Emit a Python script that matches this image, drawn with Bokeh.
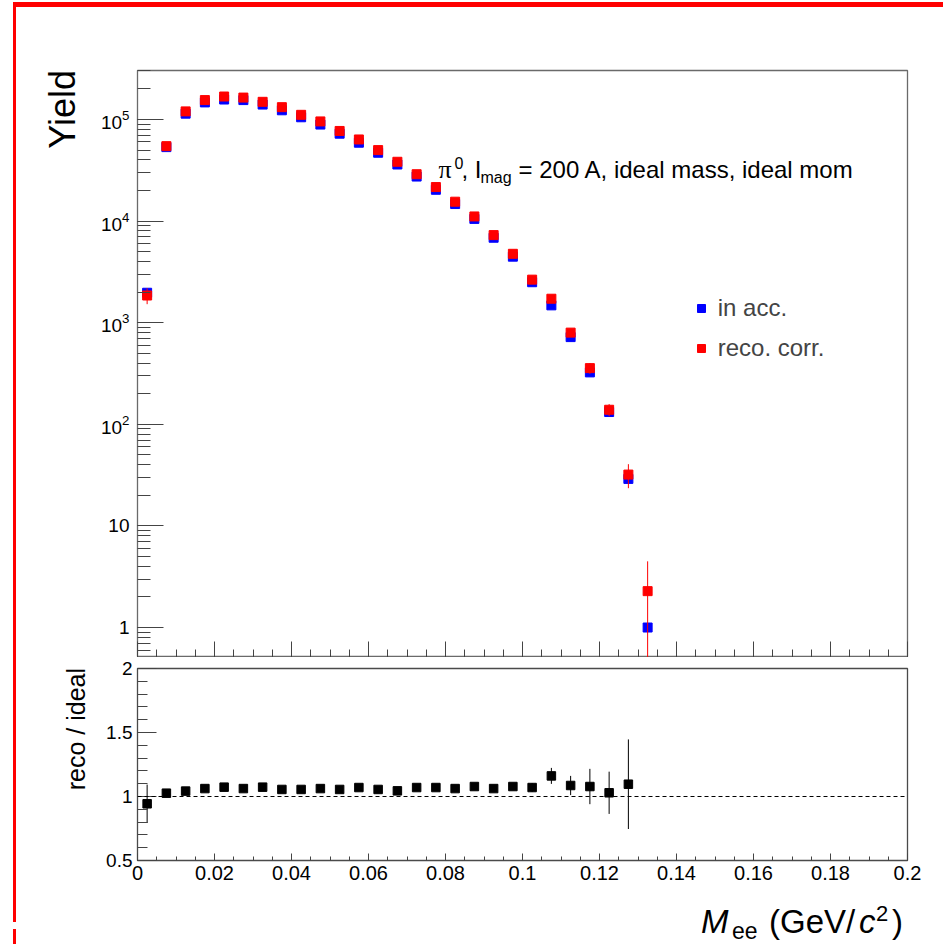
import math
from bokeh.plotting import figure
from bokeh.models import (Range1d, LogTicker, LogTickFormatter, SingleIntervalTicker,
                          CustomJSTickFormatter, Span, Label, Legend, LegendItem, Div,
                          ColumnDataSource)
from bokeh.layouts import column, row
from bokeh.embed import file_html
from bokeh.resources import INLINE

# ---------------- data ----------------
mass = [0.0025, 0.0075, 0.0125, 0.0175, 0.0225, 0.0275, 0.0325, 0.0375, 0.0425,
        0.0475, 0.0525, 0.0575, 0.0625, 0.0675, 0.0725, 0.0775, 0.0825, 0.0875,
        0.0925, 0.0975, 0.1025, 0.1075, 0.1125, 0.1175, 0.1225, 0.1275, 0.1325]
in_acc = [1970, 53400, 114000, 147000, 157000, 155000, 140000, 123000, 105000,
          89000, 72400, 59000, 47000, 36000, 27400, 20300, 14700, 10500,
          6850, 4460, 2500, 1480, 721, 324, 132, 29, 1.0]
reco_corr = [1850, 54600, 120000, 155000, 168000, 164000, 149000, 132000, 111000,
             95600, 77000, 63500, 49900, 38300, 28900, 21600, 15500, 11100,
             7270, 4760, 2650, 1720, 798, 357, 139, 32, 2.28]
reco_err = [330, 1100, 1900, 2200, 2300, 2200, 2100, 1900, 1700,
            1500, 1300, 1100, 950, 800, 650, 520, 400, 300,
            220, 160, 60, 90, 52, 43, 19, 8.5, 2.2]

ratio_mass = mass[:26]
ratio = [0.943, 1.026, 1.042, 1.062, 1.073, 1.062, 1.073, 1.055, 1.055,
         1.062, 1.055, 1.070, 1.055, 1.044, 1.070, 1.070, 1.062, 1.078,
         1.062, 1.078, 1.070, 1.161, 1.086, 1.078, 1.029, 1.096]
ratio_err = [0.15, 0.02, 0.02, 0.015, 0.015, 0.015, 0.015, 0.015, 0.015,
             0.015, 0.015, 0.015, 0.015, 0.015, 0.015, 0.02, 0.02, 0.02,
             0.02, 0.025, 0.035, 0.0625, 0.075, 0.138, 0.165, 0.35]

x_ticks_major = 0.02
legend_labels = ["in acc.", "reco. corr."]
y_title_top = "Yield"
y_title_bottom = "reco / ideal"
annotation = "= 200 A, ideal mass, ideal mom"

# ---------------- geometry (page pixels) ----------------
X_LO, X_HI = 0.0, 0.2
Y1_LO, Y1_HI = 0.507, 3.03e5
Y2_LO, Y2_HI = 0.5, 2.0
FRAME_L, FRAME_R = 137, 907
P1_TOP, P1_BOT = 70, 657
P2_TOP, P2_BOT = 668, 860
CONTENT_X, CONTENT_Y = 16, 7
LEFT_W = 70                      # column holding the rotated y titles
FIG_X = CONTENT_X + LEFT_W       # page x where the figures start
P2_Y = 657                       # page y where the lower figure starts
XT_Y = 898                       # page y where the x-title strip starts
PAGE_W, PAGE_H = 943, 944
FONT = "Liberation Sans"
FRAME1 = "#6a6a6a"
FRAME2 = "#4a4a4a"
TICK = "#444444"


def xd(px):
    return X_LO + (px - FRAME_L) / (FRAME_R - FRAME_L) * (X_HI - X_LO)


def yd1(py):
    lh, ll = math.log10(Y1_HI), math.log10(Y1_LO)
    return 10 ** (lh - (py - P1_TOP) / (P1_BOT - P1_TOP) * (lh - ll))


num_fmt = CustomJSTickFormatter(code="return Number(tick.toFixed(4)).toString();")
blank_fmt = CustomJSTickFormatter(code="return '';")

FIG_W = PAGE_W - FIG_X

# ---------------- top panel ----------------
x_range = Range1d(X_LO, X_HI)
p1 = figure(width=FIG_W, height=P2_Y - CONTENT_Y, x_range=x_range,
            y_range=Range1d(Y1_LO, Y1_HI), y_axis_type="log",
            output_backend="svg", toolbar_location=None,
            min_border_left=FRAME_L - FIG_X, min_border_right=PAGE_W - FRAME_R,
            min_border_top=P1_TOP - CONTENT_Y, min_border_bottom=P2_Y - P1_BOT)
p1.grid.visible = False
p1.outline_line_color = FRAME1
p1.outline_line_width = 1.3
p1.background_fill_color = "white"
p1.border_fill_color = "white"

p1.xaxis.ticker = SingleIntervalTicker(interval=x_ticks_major, num_minor_ticks=4)
p1.xaxis.formatter = blank_fmt
p1.xaxis.major_label_standoff = 0
p1.xaxis.axis_line_color = None
p1.xaxis.major_tick_in = 16
p1.xaxis.major_tick_out = 0
p1.xaxis.minor_tick_in = 8
p1.xaxis.minor_tick_out = 0
p1.xaxis.major_tick_line_color = TICK
p1.xaxis.minor_tick_line_color = TICK

p1.yaxis.ticker = LogTicker(num_minor_ticks=10)
p1.yaxis.formatter = LogTickFormatter(min_exponent=2)
p1.yaxis.axis_line_color = None
p1.yaxis.major_tick_in = 26
p1.yaxis.major_tick_out = 0
p1.yaxis.minor_tick_in = 13
p1.yaxis.minor_tick_out = 0
p1.yaxis.major_tick_line_color = TICK
p1.yaxis.minor_tick_line_color = TICK
p1.yaxis.major_label_text_font = FONT
p1.yaxis.major_label_text_font_size = "19px"
p1.yaxis.major_label_text_color = "black"
p1.yaxis.major_label_standoff = 8

src_b = ColumnDataSource(dict(x=mass, y=in_acc))
lo = [max(v - e, 1e-2) for v, e in zip(reco_corr, reco_err)]
hi = [v + e for v, e in zip(reco_corr, reco_err)]
src_r = ColumnDataSource(dict(x=mass, y=reco_corr, lo=lo, hi=hi))

r_blue = p1.scatter("x", "y", source=src_b, marker="square", size=9,
                    fill_color="#0000ff", line_color="#0000ff")
p1.segment(x0="x", y0="lo", x1="x", y1="hi", source=src_r, line_color="#ff0000", line_width=1)
r_red = p1.scatter("x", "y", source=src_r, marker="square", size=9,
                   fill_color="#ff0000", line_color="#ff0000")

legend = Legend(items=[LegendItem(label=legend_labels[0], renderers=[r_blue]),
                       LegendItem(label=legend_labels[1], renderers=[r_red])],
                location=(690.7 - FRAME_L, P1_BOT - 367.7),
                padding=0, margin=0, spacing=0, glyph_width=20, glyph_height=40,
                label_height=40, label_standoff=7,
                label_text_font=FONT, label_text_font_size="24px",
                background_fill_alpha=0, border_line_alpha=0)
p1.add_layout(legend)

# annotation text  (pi^0, I_mag = ...)
ann_base = 169.3
p1.add_layout(Label(x=xd(438), y=yd1(ann_base), text="π", text_font="Liberation Serif",
                    text_font_size="26px", text_baseline="alphabetic", text_color="black"))
p1.add_layout(Label(x=xd(454), y=yd1(162.5), text="0", text_font=FONT,
                    text_font_size="16px", text_baseline="alphabetic", text_color="black"))
p1.add_layout(Label(x=xd(461), y=yd1(ann_base), text=", I", text_font=FONT,
                    text_font_size="24px", text_baseline="alphabetic", text_color="black"))
p1.add_layout(Label(x=xd(480), y=yd1(177), text="mag", text_font=FONT,
                    text_font_size="16px", text_baseline="alphabetic", text_color="black"))
p1.add_layout(Label(x=xd(518), y=yd1(ann_base), text=annotation,
                    text_font=FONT, text_font_size="24px", text_baseline="alphabetic",
                    text_color="black"))

# ---------------- bottom panel ----------------
p2 = figure(width=FIG_W, height=XT_Y - P2_Y, x_range=x_range,
            y_range=Range1d(Y2_LO, Y2_HI),
            output_backend="svg", toolbar_location=None,
            min_border_left=FRAME_L - FIG_X, min_border_right=PAGE_W - FRAME_R,
            min_border_top=P2_TOP - P2_Y, min_border_bottom=XT_Y - P2_BOT)
p2.grid.visible = False
p2.outline_line_color = FRAME2
p2.outline_line_width = 1.3
p2.background_fill_color = "white"
p2.border_fill_color = "white"

p2.xaxis.ticker = SingleIntervalTicker(interval=x_ticks_major, num_minor_ticks=4)
p2.xaxis.formatter = num_fmt
p2.xaxis.axis_line_color = None
p2.xaxis.major_tick_in = 7
p2.xaxis.major_tick_out = 0
p2.xaxis.minor_tick_in = 4
p2.xaxis.minor_tick_out = 0
p2.xaxis.major_tick_line_color = TICK
p2.xaxis.minor_tick_line_color = TICK
p2.xaxis.major_label_text_font = FONT
p2.xaxis.major_label_text_font_size = "20px"
p2.xaxis.major_label_text_color = "black"
p2.xaxis.major_label_standoff = 5

p2.yaxis.ticker = SingleIntervalTicker(interval=0.5, num_minor_ticks=5)
p2.yaxis.formatter = num_fmt
p2.yaxis.axis_line_color = None
p2.yaxis.major_tick_in = 19
p2.yaxis.major_tick_out = 0
p2.yaxis.minor_tick_in = 10
p2.yaxis.minor_tick_out = 0
p2.yaxis.major_tick_line_color = TICK
p2.yaxis.minor_tick_line_color = TICK
p2.yaxis.major_label_text_font = FONT
p2.yaxis.major_label_text_font_size = "19px"
p2.yaxis.major_label_text_color = "black"
p2.yaxis.major_label_standoff = 5

p2.add_layout(Span(location=1.0, dimension="width", line_color="black",
                   line_width=1, line_dash="4 3"))

src_q = ColumnDataSource(dict(x=ratio_mass, y=ratio,
                              lo=[v - e for v, e in zip(ratio, ratio_err)],
                              hi=[v + e for v, e in zip(ratio, ratio_err)]))
p2.segment(x0="x", y0="lo", x1="x", y1="hi", source=src_q, line_color="black", line_width=1)
p2.scatter("x", "y", source=src_q, marker="square", size=8.5,
           fill_color="black", line_color="black")


# ---------------- HTML text strips (axis titles) ----------------
ASC = 0.8465  # baseline offset from top of a line-height:1 box (Liberation Sans)


def rotated_title(text, size, baseline_px, top_end_px, origin_x, origin_y, w, h):
    box = 400
    left = baseline_px - origin_x - ASC * size
    top = top_end_px - origin_y + box
    inner = (f'<div style="position:absolute;left:{left:.1f}px;top:{top:.1f}px;'
             f'width:{box}px;height:{size}px;line-height:{size}px;font-size:{size}px;'
             f"font-family:'{FONT}';color:black;text-align:right;white-space:nowrap;"
             f'transform:rotate(-90deg);transform-origin:0 0;">{text}</div>')
    html = f'<div style="position:relative;width:{w}px;height:{h}px;">{inner}</div>'
    return Div(text=html, width=w, height=h, margin=0)


def piece(text, left_px, base_px, size, italic=False):
    left = left_px - FIG_X
    top = base_px - XT_Y - ASC * size
    style = "italic" if italic else "normal"
    return (f'<span style="position:absolute;left:{left:.1f}px;top:{top:.1f}px;'
            f'font-size:{size}px;line-height:{size}px;font-style:{style};'
            f"font-family:'{FONT}';color:black;white-space:nowrap;\">{text}</span>")


yt_div = rotated_title(y_title_top, 36, 75, P1_TOP, CONTENT_X, CONTENT_Y,
                       LEFT_W, P2_Y - CONTENT_Y)
yb_div = rotated_title(y_title_bottom, 25, 85, P2_TOP, CONTENT_X, P2_Y,
                       LEFT_W, PAGE_H - P2_Y)

xt_base = 932.7
xt_html = (piece("M", 701, xt_base, 33, True) + piece("ee", 732, 939.5, 23)
           + piece("(GeV/", 769, xt_base, 33) + piece("c", 859, xt_base, 33, True)
           + piece("2", 876, 921.5, 22) + piece(")", 892, xt_base, 33))
xt_div = Div(text=f'<div style="position:relative;width:{FIG_W}px;height:{PAGE_H - XT_Y}px;">'
                  f'{xt_html}</div>', width=FIG_W, height=PAGE_H - XT_Y, margin=0)


# ---------------- page frame (red border) ----------------
def bar(w, h, color=None):
    st = {"background-color": color} if color else {}
    return Div(text="", width=w, height=h, margin=0, styles=st)


left_red = column(bar(3, 915, "#ff0000"), bar(3, 7), bar(3, 15, "#ff0000"), spacing=0)
titles = column(yt_div, yb_div, spacing=0)
figs = column(p1, p2, xt_div, spacing=0)
page = column(
    bar(PAGE_W, 2),
    row(bar(13, 5), bar(PAGE_W - 13, 5, "#ff0000"), spacing=0),
    row(bar(13, PAGE_H - CONTENT_Y), left_red, titles, figs, spacing=0),
    spacing=0,
)

open("out.html", "w").write(file_html(page, INLINE))
